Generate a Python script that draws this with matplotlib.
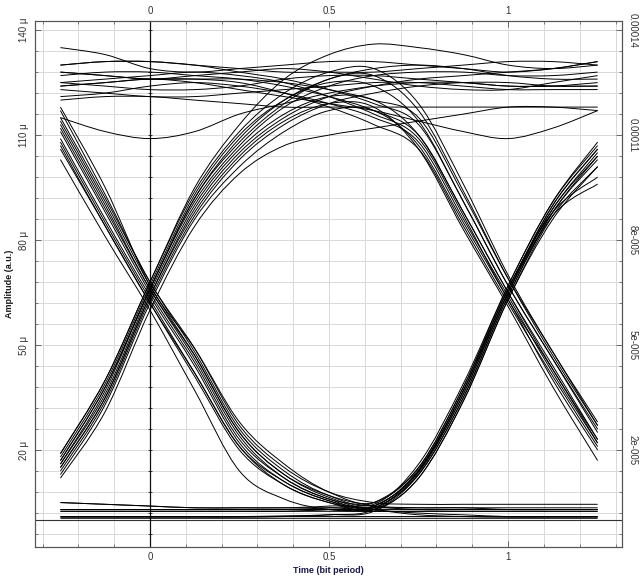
import numpy as np
import matplotlib
matplotlib.use("Agg")
import matplotlib.pyplot as plt
from matplotlib.path import Path
from matplotlib.patches import PathPatch
from matplotlib.ticker import MultipleLocator, NullFormatter

plt.rcParams["font.family"] = ["Liberation Sans", "DejaVu Sans"]

# sample instants of every trace (bit periods)
times = [-0.25, -0.125, 0.0, 0.125, 0.25, 0.375, 0.5, 0.625, 0.75, 0.875, 1.0, 1.125, 1.25]

# amplitudes in micro a.u., grouped by bit pattern around the window
rise_fall = [
    [16, 36, 65, 90, 106, 116, 121, 120, 110, 88, 65, 43, 23],
    [18, 39, 67, 93, 110, 120, 125, 124, 114, 91, 67, 46, 26],
    [13, 33, 62, 86, 101, 111, 117, 117, 107, 85, 63, 40, 20],
    [17, 38, 66, 92, 108, 119, 126, 127, 117, 94, 69, 47, 27],
    [15, 35, 64, 88, 104, 114, 119, 118, 106, 83, 61, 38, 17],
    [19, 40, 68, 94, 111, 122, 128, 129, 119, 96, 70, 48, 28],
]
rise_high = [
    [16, 37, 66, 91, 107, 118, 124, 127, 128, 128, 127, 127, 128],
    [14, 34, 63, 87, 103, 113, 119, 122, 124, 125, 125, 124, 124],
    [19, 40, 68, 95, 113, 126, 133, 136, 135, 133, 130, 129, 130],
    [17, 38, 66, 92, 109, 120, 126, 129, 130, 129, 127, 126, 126],
    [15, 35, 64, 89, 105, 115, 121, 124, 126, 127, 128, 129, 131],
    [12, 31, 60, 84, 99, 107, 110, 112, 114, 116, 118, 118, 117],
]
fall_rise = [
    [111, 88, 65, 45, 23, 12, 6, 3.5, 14, 36, 65, 88, 104],
    [115, 92, 68, 48, 26, 14, 7, 4.5, 16, 39, 67, 91, 107],
    [106, 84, 62, 41, 20, 10, 5, 3, 12, 34, 63, 86, 101],
    [118, 95, 67, 49, 28, 16, 8, 5, 15, 38, 66, 90, 106],
    [108, 85, 63, 42, 21, 11, 5.5, 3, 13, 35, 64, 87, 96],
    [113, 90, 66, 47, 25, 13, 6.5, 4, 14.5, 37, 66, 89, 105],
]
fall_low = [
    [112, 89, 66, 46, 24, 12, 6, 4, 3.5, 3.5, 3, 3, 3],
    [103, 81, 60, 37, 14, 6, 3, 2.5, 2.5, 2.5, 2.5, 2.5, 2.5],
    [117, 93, 68, 49, 27, 15, 8, 5, 4.5, 4.5, 4.5, 4.5, 4.5],
    [109, 86, 64, 44, 22, 11, 5.5, 3, 2, 1.5, 1, 1, 1],
    [114, 91, 67, 47, 25, 13, 7, 4, 3, 3, 3, 3, 3],
    [107, 84, 62, 42, 21, 10, 5, 3, 1.5, 1, 0.8, 0.8, 0.8],
]
high_fall = [
    [127, 128, 128, 127, 126, 124, 121, 117, 110, 88, 65, 44, 23],
    [124, 125, 126, 126, 125, 122, 118, 113, 106, 84, 62, 41, 21],
    [130, 131, 131, 130, 128, 126, 123, 119, 113, 91, 67, 46, 25],
    [121, 122, 124, 125, 124, 122, 119, 115, 108, 86, 64, 42, 22],
    [128, 127, 126, 126, 126, 125, 123, 120, 115, 93, 69, 48, 27],
    [125, 126, 127, 128, 127, 125, 121, 116, 109, 87, 63, 43, 22],
]
low_rise = [
    [3, 3, 3, 3, 3, 3, 3.5, 4, 14, 37, 65, 89, 104],
    [1, 1, 1, 1, 1, 1.2, 1.5, 2.5, 12, 34, 63, 87, 101],
    [5, 4.5, 4, 3.5, 3.5, 3.5, 4, 5, 15, 38, 67, 91, 108],
    [3, 3, 3, 3, 3, 3, 3, 3.5, 13, 35, 64, 88, 103],
    [0.8, 0.8, 0.8, 0.8, 0.8, 1, 1.5, 3, 13.5, 36, 65, 90, 106],
    [2.5, 2.5, 2.5, 2.5, 2.5, 2.5, 3, 4, 14, 37, 66, 88, 98],
]
high_high = [
    [135, 133, 129, 128, 129, 130, 131, 131, 130, 129, 128, 129, 131],
    [130, 131, 131, 130, 129, 128, 128, 128, 129, 130, 131, 131, 130],
    [128, 127, 126, 127, 128, 129, 128, 126, 124, 123, 123, 125, 127],
    [125, 124, 123, 123, 124, 126, 127, 127, 126, 125, 124, 124, 125],
    [123, 122, 121, 121, 122, 123, 124, 125, 125, 124, 123, 123, 123],
    [120, 121, 121, 120, 119, 118, 118, 118, 118, 118, 118, 118, 118],
    [115, 111, 109, 111, 116, 119, 122, 124, 125, 125, 124, 124, 124],
    [124, 125, 126, 125, 123, 121, 119, 117, 114, 111, 109, 112, 117],
]
low_low = [
    [5, 4.5, 4, 3.5, 3.5, 3.5, 3.5, 3.5, 3.5, 3.5, 3.5, 3.5, 3.5],
    [3, 3, 3, 3, 3, 3, 3, 3, 3, 3, 3, 3, 3],
    [2.5, 2.5, 2.5, 2.5, 2.5, 2.5, 2.5, 2.5, 2.5, 2.5, 2.5, 2.5, 2.5],
    [1, 1, 1, 1, 1, 1, 1, 1, 1, 1, 1, 1, 1],
    [0.5, 0.5, 0.5, 0.5, 0.5, 0.5, 0.5, 0.5, 0.5, 0.5, 0.5, 0.5, 0.5],
]

y_ticks = [20, 50, 80, 110, 140]
left_labels = ["20 \u03bc", "50 \u03bc", "80 \u03bc", "110 \u03bc", "140 \u03bc"]
right_labels = ["2e-005", "5e-005", "8e-005", "0.00011", "0.00014"]
x_ticks = [0, 0.5, 1]
x_labels = ["0", "0.5", "1"]


def trace_path(ts, vs):
    # Catmull-Rom through the samples, drawn as cubic bezier segments
    pts = np.column_stack([ts, vs]).astype(float)
    ext = np.vstack([pts[0], pts, pts[-1]])
    verts = [pts[0]]
    codes = [Path.MOVETO]
    for i in range(len(pts) - 1):
        p0, p1, p2, p3 = ext[i], ext[i + 1], ext[i + 2], ext[i + 3]
        verts += [p1 + (p2 - p0) / 6, p2 - (p3 - p1) / 6, p2]
        codes += [Path.CURVE4] * 3
    return Path(verts, codes)


fig = plt.figure(figsize=(6.44, 5.8), dpi=100)
ax = fig.add_axes([35 / 644, 1 - 547 / 580, 587 / 644, 526 / 580])

xmin, xmax = -0.321, 1.318
ymin, ymax = -7.7, 142.6
ax.set_xlim(xmin, xmax)
ax.set_ylim(ymin, ymax)

ax.xaxis.set_major_locator(MultipleLocator(0.5))
ax.xaxis.set_minor_locator(MultipleLocator(0.1))
ax.yaxis.set_major_locator(MultipleLocator(30, offset=20))
ax.yaxis.set_minor_locator(MultipleLocator(6, offset=2))
ax.grid(True, which="both", color="#d9d9d9", lw=0.7)
ax.set_axisbelow(True)

groups = [rise_fall, rise_high, fall_rise, fall_low, high_fall, low_rise, high_high, low_low]
for group in groups:
    for vals in group:
        ax.add_patch(PathPatch(trace_path(times, vals), fill=False,
                               edgecolor="black", lw=0.7, zorder=3))

ax.axhline(0, color="#333333", lw=0.8, zorder=2)

# origin axis through t = 0 with its own small ticks
mid = ax.secondary_yaxis(0, transform=ax.transData)
mid.set_zorder(2)
mid.yaxis.set_major_locator(MultipleLocator(30, offset=20))
mid.yaxis.set_minor_locator(MultipleLocator(6, offset=2))
mid.yaxis.set_major_formatter(NullFormatter())
mid.tick_params(which="both", direction="inout", length=3, width=0.6,
                colors="#222222", labelleft=False, labelright=False)
for s in mid.spines.values():
    s.set_color("#111111")
    s.set_linewidth(0.9)

ax.set_xticks(x_ticks, x_labels)
ax.set_yticks(y_ticks, left_labels, rotation=90, va="center")
ax.tick_params(which="both", direction="in", top=True, labeltop=True,
               colors="#555555", labelcolor="#333333", labelsize=7)
ax.tick_params(which="major", length=4, width=0.6)
ax.tick_params(which="minor", length=2.5, width=0.5)
ax.tick_params(axis="y", right=False, pad=4)

ax2 = ax.twinx()
ax2.set_ylim(ymin, ymax)
ax2.yaxis.set_minor_locator(MultipleLocator(6, offset=2))
ax2.set_yticks(y_ticks, right_labels, rotation=-90, va="center")
ax2.tick_params(which="both", direction="in", colors="#555555",
                labelcolor="#333333", labelsize=7, pad=4)
ax2.tick_params(which="major", length=4, width=0.6)
ax2.tick_params(which="minor", length=2.5, width=0.5)

for a in (ax, ax2):
    for s in a.spines.values():
        s.set_color("#555555")
        s.set_linewidth(0.8)

ax.set_xlabel("Time (bit period)", fontsize=6.5, fontweight="bold",
              color="#1a1a4a", labelpad=3)
ax.set_ylabel("Amplitude (a.u.)", fontsize=6.5, fontweight="bold",
              color="#1a1a1a", labelpad=4)

fig.savefig("out.png", dpi=100)
